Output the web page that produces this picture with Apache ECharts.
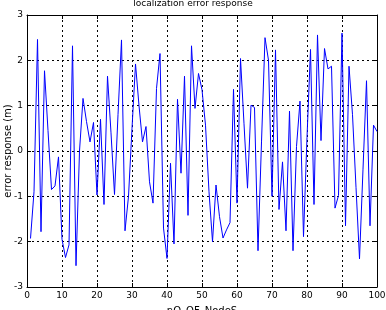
<!DOCTYPE html>
<html>
<head>
<meta charset="utf-8">
<script src="https://cdn.jsdelivr.net/npm/echarts@6/dist/echarts.min.js"></script>
<style>
  html, body { margin: 0; padding: 0; background: #fff; }
  #chart { width: 386px; height: 310px; }
</style>
</head>
<body>
<div id="chart"></div>
<script>
// error response per node, node numbers 1..100
const errorResponse = [
  -1.93, -0.9, 2.46, -1.78, 1.77, 0.45, -0.85, -0.77, -0.13, -1.95,
  -2.35, -2.07, 2.32, -2.53, 0.0, 1.16, 0.65, 0.2, 0.63, -0.97,
  0.7, -1.18, 1.65, 0.4, -0.96, 0.8, 2.45, -1.76, -1.0, 0.5,
  1.92, 1.0, 0.2, 0.54, -0.68, -1.15, 1.38, 2.15, -1.7, -2.37,
  -0.27, -2.05, 1.14, -0.49, 1.65, -1.42, 2.32, 0.94, 1.71, 1.35,
  0.57, -0.9, -2.0, -0.75, -1.45, -1.92, -1.74, -1.58, 1.36, -1.15,
  2.04, 0.6, -0.82, 1.01, 0.96, -2.2, 0.2, 2.5, 2.0, -1.0,
  2.23, -1.29, -0.24, -1.76, 0.88, -2.2, 0.1, 1.1, -1.89, 0.3,
  2.24, -1.18, 2.56, 0.23, 2.26, 1.81, 1.87, -1.26, -0.98, 2.6,
  -1.65, 1.87, 0.8, -0.8, -2.38, -0.4, 1.55, -1.65, 0.57, 0.43
]
const xTicks = [0, 10, 20, 30, 40, 50, 60, 70, 80, 90, 100]
const yTicks = [-3, -2, -1, 0, 1, 2, 3]

const font = 'DejaVu Sans'
const chart = echarts.init(document.getElementById('chart'), null, { renderer: 'canvas' })

const gridLine = { show: true, lineStyle: { color: '#000', type: [2, 3], width: 1 } }
const tick = { show: true, inside: true, length: 4, lineStyle: { color: '#000' } }
const frame = { show: true, onZero: false, lineStyle: { color: '#000', width: 1 } }

chart.setOption({
  animation: false,
  backgroundColor: '#fff',
  title: {
    text: 'localization error response',
    left: 'center',
    top: -1,
    padding: 0,
    textStyle: { fontFamily: font, fontSize: 9, fontWeight: 'normal', color: '#000' }
  },
  grid: { left: 27, right: 9, top: 15, bottom: 23, containLabel: false, outerBoundsMode: 'none' },
  xAxis: [
    {
      type: 'value',
      min: xTicks[0],
      max: xTicks[xTicks.length - 1],
      interval: 10,
      name: 'nO_OF_NodeS',
      nameLocation: 'middle',
      nameGap: 19,
      nameTextStyle: { fontFamily: font, fontSize: 10, color: '#000', verticalAlign: 'top' },
      axisLine: frame,
      axisTick: tick,
      axisLabel: { fontFamily: font, fontSize: 9, color: '#000', margin: 4 },
      splitLine: gridLine
    },
    {
      type: 'value',
      position: 'top',
      min: xTicks[0],
      max: xTicks[xTicks.length - 1],
      interval: 10,
      axisLine: frame,
      axisTick: tick,
      axisLabel: { show: false },
      splitLine: { show: false }
    }
  ],
  yAxis: [
    {
      type: 'value',
      min: yTicks[0],
      max: yTicks[yTicks.length - 1],
      interval: 1,
      name: 'error response (m)',
      nameLocation: 'middle',
      nameGap: 14,
      nameMoveOverlap: false,
      nameTextStyle: { fontFamily: font, fontSize: 10, color: '#000' },
      axisLine: frame,
      axisTick: tick,
      axisLabel: { fontFamily: font, fontSize: 9, color: '#000', margin: 4 },
      splitLine: gridLine
    },
    {
      type: 'value',
      position: 'right',
      min: yTicks[0],
      max: yTicks[yTicks.length - 1],
      interval: 1,
      axisLine: frame,
      axisTick: tick,
      axisLabel: { show: false },
      splitLine: { show: false }
    }
  ],
  series: [
    {
      type: 'line',
      data: errorResponse.map((v, i) => [i + 1, v]),
      showSymbol: false,
      symbol: 'none',
      lineStyle: { color: '#0000ff', width: 1 }
    }
  ]
})
</script>
</body>
</html>
